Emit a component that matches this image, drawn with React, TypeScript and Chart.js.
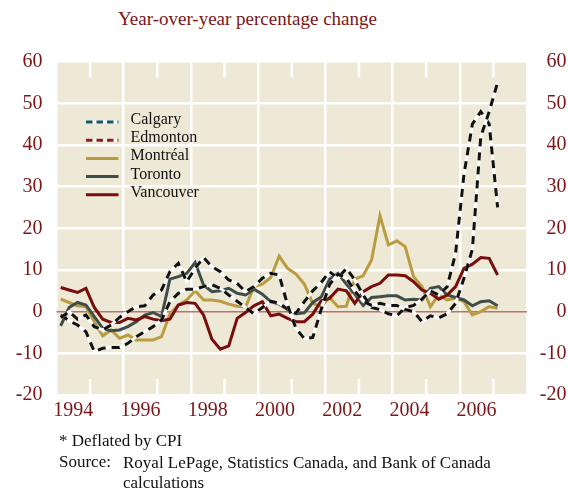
import React, { useEffect, useRef } from "react";
import { Chart, registerables } from "chart.js";
Chart.register(...registerables);

// ---------------- data ----------------
const quarters: string[] = [
  "1994Q1","1994Q2","1994Q3","1994Q4","1995Q1","1995Q2","1995Q3","1995Q4",
  "1996Q1","1996Q2","1996Q3","1996Q4","1997Q1","1997Q2","1997Q3","1997Q4",
  "1998Q1","1998Q2","1998Q3","1998Q4","1999Q1","1999Q2","1999Q3","1999Q4",
  "2000Q1","2000Q2","2000Q3","2000Q4","2001Q1","2001Q2","2001Q3","2001Q4",
  "2002Q1","2002Q2","2002Q3","2002Q4","2003Q1","2003Q2","2003Q3","2003Q4",
  "2004Q1","2004Q2","2004Q3","2004Q4","2005Q1","2005Q2","2005Q3","2005Q4",
  "2006Q1","2006Q2","2006Q3","2006Q4","2007Q1",
];

const calgary: number[] = [
  -0.8, -2.2, -3.2, -4.8, -9.6, -8.8, -8.6, -8.6, -7.6, -6.0,
  -4.8, -3.6, -2.0, 2.4, 4.4, 5.4, 5.4, 6.0, 6.5, 5.6,
  4.0, 2.5, 1.0, -0.5, 1.0, 2.5, 2.0, 0.6, -0.4, 2.4,
  5.0, 7.0, 9.6, 8.0, 10.4, 7.6, 4.0, 1.0, 0.5, -0.5,
  -1.0, 1.0, 1.5, 3.0, 5.0, 4.0, 6.0, 14.0, 33.0, 45.0,
  48.0, 45.0, 25.0,
];

const edmonton: number[] = [
  -1.4, 0.0, -1.8, -0.8, -3.6, -4.4, -3.2, -1.4, 0.0, 1.2,
  1.4, 4.0, 5.2, 9.6, 11.6, 7.2, 10.4, 13.0, 10.8, 9.6,
  7.6, 6.8, 4.8, 6.0, 8.0, 9.2, 8.8, 1.6, -4.0, -6.5,
  -6.2, 0.5, 6.5, 9.0, 8.0, 5.0, 2.5, 1.5, 2.0, 1.5,
  1.5, 0.5, 0.0, -2.4, -1.0, -1.5, -0.5, 2.0, 8.0, 15.0,
  42.0, 48.0, 55.0,
];

const montreal: number[] = [
  3.0, 2.2, 1.4, 1.2, -2.5, -5.8, -4.4, -6.4, -5.6, -6.8,
  -6.8, -6.8, -6.0, -0.5, 1.6, 2.8, 5.0, 2.8, 2.8, 2.5,
  1.8, 1.3, 1.1, 6.0, 6.6, 8.2, 13.3, 10.4, 9.0, 6.6,
  2.0, 1.2, 3.4, 1.2, 1.3, 7.8, 8.6, 12.4, 23.0, 16.0,
  17.0, 15.6, 8.4, 6.0, 1.2, 4.0, 2.8, 3.2, 2.4, -0.8,
  0.0, 1.2, 0.8,
];

const toronto: number[] = [
  -3.4, 1.0, 2.2, 1.6, -1.2, -4.0, -4.6, -4.4, -3.6, -2.4,
  -0.8, -0.2, -1.2, 7.8, 8.4, 9.2, 11.8, 6.4, 4.8, 5.0,
  5.6, 4.4, 4.0, 5.4, 4.2, 2.4, 1.8, 0.5, -0.5, -0.3,
  2.2, 3.5, 7.8, 9.2, 6.6, 4.2, 1.5, 3.4, 3.6, 3.8,
  3.8, 2.8, 3.0, 2.8, 5.6, 6.0, 4.0, 3.4, 2.8, 1.4,
  2.4, 2.6, 1.4,
];

const vancouver: number[] = [
  5.8, 5.2, 4.6, 5.6, 1.0, -1.8, -2.6, -2.6, -1.6, -2.0,
  -1.2, -1.8, -2.2, -1.8, 1.6, 2.2, 2.0, -0.8, -6.6, -9.0,
  -8.2, -1.6, -0.2, 1.4, 2.4, -1.0, -0.6, -1.6, -2.4, -2.4,
  -0.6, 2.6, 3.2, 5.4, 5.0, 2.0, 4.8, 6.0, 6.8, 8.8,
  8.8, 8.6, 7.2, 5.2, 4.4, 3.0, 4.0, 6.0, 10.4, 11.4,
  13.0, 12.8, 8.8,
];

const yearLabels: number[] = [1994, 1996, 1998, 2000, 2002, 2004, 2006];
const xMin = 1994;
const xMax = 2008;
const yMin = -20;
const yMax = 60;
const yStep = 10;

const titleText = "Year-over-year percentage change";
const noteText = "* Deflated by CPI";
const sourceLabel = "Source:";
const sourceText = "Royal LePage, Statistics Canada, and Bank of Canada";
const sourceText2 = "calculations";

// ---------------- styles ----------------
const BG = "#eee8d6";
const TEXT_RED = "#7b1518";
const ZERO = "#b8736c";
const GOLD = "#b99c3f";
const SLATE = "#3f4d4a";
const MAROON = "#780d0d";
const FONT = '"Liberation Serif", "Times New Roman", serif';

const legendItems = [
  { label: "Calgary", color: "#0f5b6b", dashed: true },
  { label: "Edmonton", color: "#8a1c2a", dashed: true },
  { label: "Montréal", color: GOLD, dashed: false },
  { label: "Toronto", color: SLATE, dashed: false },
  { label: "Vancouver", color: MAROON, dashed: false },
];

function qx(label: string): number {
  const yr = parseInt(label.slice(0, 4), 10);
  const q = parseInt(label.slice(5), 10);
  return yr + (q - 0.5) / 4;
}

function toPoints(values: number[]) {
  return values.map((v, i) => ({ x: qx(quarters[i]), y: v }));
}

const decoPlugin = {
  id: "deco",
  beforeDraw(chart: any) {
    const { ctx, chartArea: a } = chart;
    ctx.save();
    ctx.fillStyle = BG;
    ctx.fillRect(a.left, a.top, a.right - a.left, a.bottom - a.top);
    ctx.restore();
  },
  beforeDatasetsDraw(chart: any) {
    const { ctx, chartArea: a, scales } = chart;
    const xs = scales.x;
    const ys = scales.y;
    ctx.save();
    ctx.strokeStyle = "#ffffff";
    ctx.lineWidth = 2.5;
    for (let yr = xMin + 1; yr < xMax; yr += 2) {
      const px = xs.getPixelForValue(yr);
      ctx.beginPath();
      ctx.moveTo(px, a.top);
      ctx.lineTo(px, a.top + 16);
      ctx.moveTo(px, a.bottom - 16);
      ctx.lineTo(px, a.bottom);
      ctx.stroke();
    }
    const y0 = ys.getPixelForValue(0);
    ctx.strokeStyle = ZERO;
    ctx.lineWidth = 1.5;
    ctx.beginPath();
    ctx.moveTo(a.left, y0);
    ctx.lineTo(a.right, y0);
    ctx.stroke();
    ctx.restore();
  },
  afterDraw(chart: any) {
    const { ctx, chartArea: a } = chart;
    ctx.save();
    legendItems.forEach((it, k) => {
      const base = a.top + 62.4 + 18.2 * k;
      const ly = base - 2;
      const x0 = a.left + 29.5;
      const x1 = a.left + 62;
      ctx.lineWidth = 3;
      if (it.dashed) {
        ctx.strokeStyle = "#ffffff";
        ctx.setLineDash([]);
        ctx.beginPath();
        ctx.moveTo(x0, ly);
        ctx.lineTo(x1, ly);
        ctx.stroke();
        ctx.setLineDash([6.5, 4]);
      } else {
        ctx.setLineDash([]);
      }
      ctx.strokeStyle = it.color;
      ctx.beginPath();
      ctx.moveTo(x0, ly);
      ctx.lineTo(x1, ly);
      ctx.stroke();
      ctx.setLineDash([]);
      ctx.fillStyle = "#111111";
      ctx.font = `16px ${FONT}`;
      ctx.textBaseline = "alphabetic";
      ctx.textAlign = "left";
      ctx.fillText(it.label, a.left + 74, base);
    });
    ctx.restore();
  },
};

export default function App() {
  const ref = useRef<HTMLCanvasElement | null>(null);

  useEffect(() => {
    if (!ref.current) return;
    const dashedSet = (data: number[], name: string, order: number) => [
      {
        label: name,
        data: toPoints(data),
        borderColor: "#111111",
        borderWidth: 3,
        borderDash: [8, 6],
        pointRadius: 0,
        tension: 0,
        fill: false,
        order,
      },
      {
        label: name + " (under)",
        data: toPoints(data),
        borderColor: "#ffffff",
        borderWidth: 3,
        pointRadius: 0,
        tension: 0,
        fill: false,
        order: order + 1,
      },
    ];
    const solidSet = (data: number[], name: string, color: string, order: number) => ({
      label: name,
      data: toPoints(data),
      borderColor: color,
      borderWidth: 3,
      pointRadius: 0,
      tension: 0,
      fill: false,
      order,
    });

    const chart = new Chart(ref.current, {
      type: "line",
      data: {
        datasets: [
          ...dashedSet(edmonton, "Edmonton", 0),
          ...dashedSet(calgary, "Calgary", 2),
          solidSet(vancouver, "Vancouver", MAROON, 5),
          solidSet(toronto, "Toronto", SLATE, 6),
          solidSet(montreal, "Montréal", GOLD, 7),
        ] as any,
      },
      options: {
        responsive: false,
        animation: false,
        devicePixelRatio: 1,
        events: [],
        layout: { padding: { top: 61.6, right: 1.5, left: 0, bottom: 0 } },
        plugins: {
          legend: { display: false },
          tooltip: { enabled: false },
          title: { display: false },
        },
        scales: {
          x: {
            type: "linear",
            position: "bottom",
            min: xMin,
            max: xMax,
            ticks: { stepSize: 1, display: false },
            grid: {
              drawTicks: false,
              lineWidth: 2.5,
              color: (c: any) =>
                c.tick && Math.round(c.tick.value) % 2 === 0 ? "#ffffff" : "rgba(0,0,0,0)",
            },
            border: { display: false },
            afterFit: (s: any) => {
              s.height = 0;
            },
          },
          xl: {
            type: "linear",
            position: "bottom",
            min: xMin,
            max: xMax,
            afterBuildTicks: (s: any) => {
              s.ticks = yearLabels.map((y) => ({ value: y + 0.5 }));
            },
            ticks: {
              autoSkip: false,
              maxRotation: 0,
              padding: 4,
              color: TEXT_RED,
              font: { family: FONT, size: 20 },
              callback: (v: any) => String(Math.floor(Number(v))),
            },
            grid: { display: false, drawTicks: false },
            border: { display: false },
            afterFit: (s: any) => {
              s.height = 40;
            },
          },
          y: {
            position: "left",
            min: yMin,
            max: yMax,
            ticks: {
              stepSize: yStep,
              padding: 14,
              color: TEXT_RED,
              font: { family: FONT, size: 20 },
            },
            grid: {
              drawTicks: false,
              lineWidth: 2.5,
              color: (c: any) => (c.tick && c.tick.value === 0 ? "rgba(0,0,0,0)" : "#ffffff"),
            },
            border: { display: false },
            afterFit: (s: any) => {
              s.width = 56.5;
            },
          },
          y2: {
            position: "right",
            min: yMin,
            max: yMax,
            ticks: {
              stepSize: yStep,
              crossAlign: "far",
              color: TEXT_RED,
              font: { family: FONT, size: 20 },
            },
            grid: { display: false, drawTicks: false },
            border: { display: false },
            afterFit: (s: any) => {
              s.width = 39.5;
            },
          },
        },
      } as any,
      plugins: [decoPlugin],
    });
    return () => chart.destroy();
  }, []);

  return (
    <div
      style={{
        position: "absolute",
        left: 0,
        top: 0,
        width: 568,
        height: 488,
        background: "#ffffff",
        fontFamily: FONT,
        overflow: "hidden",
      }}
    >
      <div
        style={{
          position: "absolute",
          left: 118,
          top: 9,
          fontSize: 19,
          lineHeight: "19px",
          color: TEXT_RED,
          whiteSpace: "nowrap",
        }}
      >
        {titleText}
      </div>
      <canvas
        ref={ref}
        width={568}
        height={435}
        style={{ position: "absolute", left: 0, top: 0, width: 568, height: 435 }}
      />
      <div
        style={{
          position: "absolute",
          left: 59,
          top: 432,
          fontSize: 17,
          lineHeight: "17px",
          color: "#111",
          whiteSpace: "nowrap",
        }}
      >
        {noteText}
      </div>
      <div
        style={{
          position: "absolute",
          left: 59,
          top: 453,
          fontSize: 17,
          lineHeight: "17px",
          color: "#111",
          whiteSpace: "nowrap",
        }}
      >
        {sourceLabel}
      </div>
      <div
        style={{
          position: "absolute",
          left: 123,
          top: 453,
          fontSize: 17,
          lineHeight: "20px",
          color: "#111",
          whiteSpace: "nowrap",
        }}
      >
        {sourceText}
        <br />
        {sourceText2}
      </div>
    </div>
  );
}
